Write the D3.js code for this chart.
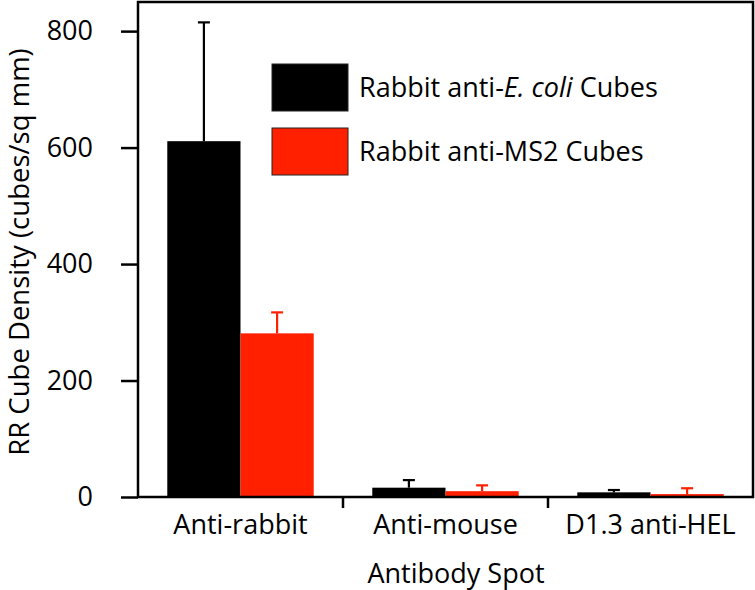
<!DOCTYPE html>
<html><head><meta charset="utf-8">
<script src="https://cdn.jsdelivr.net/npm/d3@7"></script>
<style>body{margin:0;background:#fff}svg{display:block}text{font-family:"Open Sans",sans-serif;fill:#000}</style>
</head><body><svg id="c" width="755" height="590"></svg>
<script>
const categories = ["Anti-rabbit", "Anti-mouse", "D1.3 anti-HEL"];
const seriesNames = ["Rabbit anti-E. coli Cubes", "Rabbit anti-MS2 Cubes"];
const ecoliValues = [611, 16, 8];
const ecoliErrors = [204, 13, 4];
const ms2Values = [281, 10, 5];
const ms2Errors = [36, 10, 10];
const yTicks = [0, 200, 400, 600, 800];
const colors = ["#000000", "#ff2000"];

const svg = d3.select("#c");
const L = 138, R = 753, T = 2, B = 497;
const x0 = d3.scaleBand().domain(categories).range([L, R]).paddingInner(0).paddingOuter(0);
const x1 = d3.scaleBand().domain([0, 1]).range([0, x0.bandwidth()]).paddingOuter(0.4).paddingInner(0);
const y = d3.scaleLinear().domain([0, 850]).range([B, T]);

const series = [
  {name: seriesNames[0], values: ecoliValues, errs: ecoliErrors, color: colors[0]},
  {name: seriesNames[1], values: ms2Values, errs: ms2Errors, color: colors[1]}
];

series.forEach((s, si) => {
  const g = svg.append("g");
  g.selectAll("rect").data(categories).join("rect")
    .attr("x", c => x0(c) + x1(si))
    .attr("y", (c, i) => y(s.values[i]))
    .attr("width", x1.bandwidth())
    .attr("height", (c, i) => B - y(s.values[i]))
    .attr("fill", s.color);
  const e = svg.append("g").attr("stroke", s.color).attr("stroke-width", 2.2);
  categories.forEach((c, i) => {
    const cx = x0(c) + x1(si) + x1.bandwidth() / 2;
    e.append("line").attr("x1", cx).attr("x2", cx)
      .attr("y1", y(s.values[i])).attr("y2", y(s.values[i] + s.errs[i]));
    e.append("line").attr("x1", cx - 6).attr("x2", cx + 6)
      .attr("y1", y(s.values[i] + s.errs[i])).attr("y2", y(s.values[i] + s.errs[i]));
  });
});

svg.append("rect").attr("x", L).attr("y", T).attr("width", R - L).attr("height", B - T)
  .attr("fill", "none").attr("stroke", "#000").attr("stroke-width", 2.5);

const ya = svg.append("g").attr("transform", `translate(${L},0)`)
  .call(d3.axisLeft(y).tickValues(yTicks).tickSize(17).tickPadding(28));
ya.select(".domain").remove();
ya.selectAll("line").attr("stroke-width", 2.5);
ya.selectAll("text").attr("font-size", 27).style("font-family", "Open Sans");

const xa = svg.append("g").attr("transform", `translate(0,${B})`)
  .call(d3.axisBottom(x0).tickSize(0).tickPadding(18));
xa.select(".domain").remove();
xa.selectAll("text").attr("font-size", 27).style("font-family", "Open Sans");
svg.append("g").selectAll("line").data(categories.slice(1)).join("line")
  .attr("x1", c => x0(c)).attr("x2", c => x0(c))
  .attr("y1", B).attr("y2", B + 11).attr("stroke", "#000").attr("stroke-width", 2.5);

svg.append("text").attr("x", 456).attr("y", 583).attr("text-anchor", "middle")
  .attr("font-size", 27).text("Antibody Spot");
svg.append("text").attr("transform", "translate(29,252) rotate(-90)")
  .attr("text-anchor", "middle").attr("font-size", 27.5).text("RR Cube Density (cubes/sq mm)");

const lg = svg.append("g");
series.forEach((s, i) => {
  const yy = 64 + i * 64;
  lg.append("rect").attr("x", 272).attr("y", yy).attr("width", 76).attr("height", 47)
    .attr("fill", s.color).attr("stroke", "#222").attr("stroke-width", 1);
  const t = lg.append("text").attr("x", 359).attr("y", yy + 33).attr("font-size", 27);
  if (i === 0) {
    t.append("tspan").text("Rabbit anti-");
    t.append("tspan").attr("font-style", "italic").text("E. coli");
    t.append("tspan").text(" Cubes");
  } else {
    t.text(s.name);
  }
});
</script></body></html>
